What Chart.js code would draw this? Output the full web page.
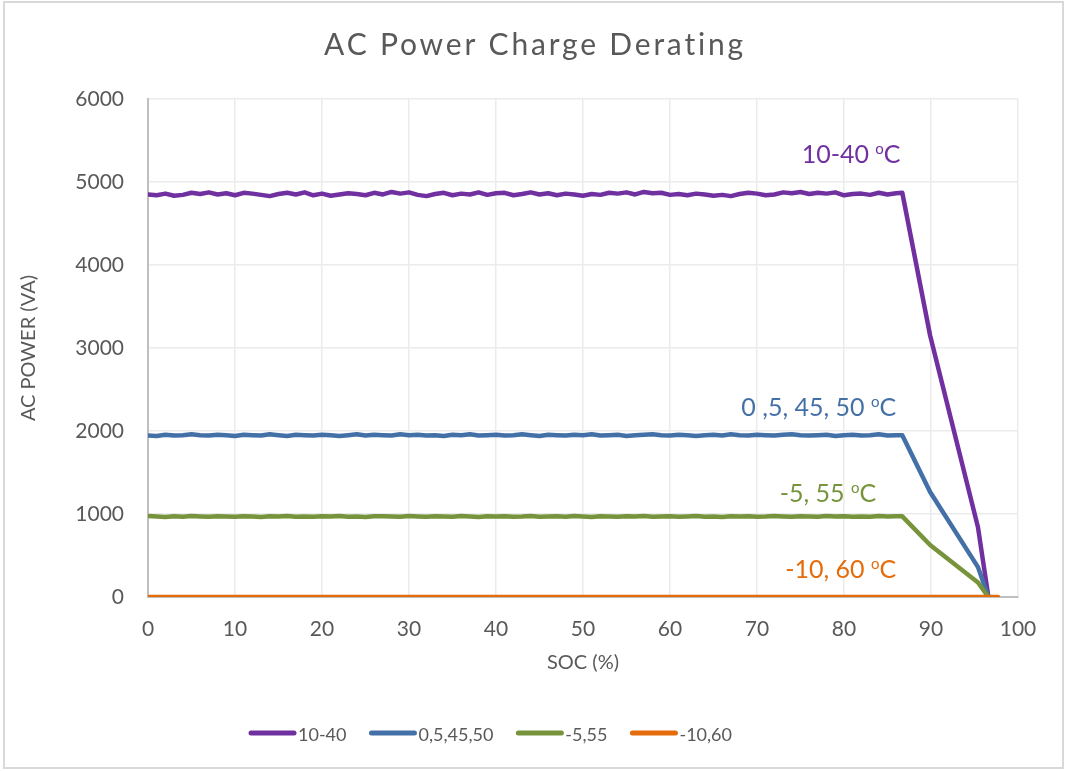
<!DOCTYPE html>
<html>
<head>
<meta charset="utf-8">
<title>AC Power Charge Derating</title>
<script src="https://cdn.jsdelivr.net/npm/chart.js@4.4.1/dist/chart.umd.min.js"></script>
<style>
  html, body { margin: 0; padding: 0; background: #ffffff; }
  #wrap { position: relative; width: 1066px; height: 771px; }
  canvas { display: block; }
</style>
</head>
<body>
<div id="wrap"><canvas id="chart" width="1066" height="771"></canvas></div>
<script>
// State of charge (%) for the constant-power plateau
const socFlat = [
  0, 1, 2, 3, 4, 5, 6, 7, 8, 9,
  10, 11, 12, 13, 14, 15, 16, 17, 18, 19,
  20, 21, 22, 23, 24, 25, 26, 27, 28, 29,
  30, 31, 32, 33, 34, 35, 36, 37, 38, 39,
  40, 41, 42, 43, 44, 45, 46, 47, 48, 49,
  50, 51, 52, 53, 54, 55, 56, 57, 58, 59,
  60, 61, 62, 63, 64, 65, 66, 67, 68, 69,
  70, 71, 72, 73, 74, 75, 76, 77, 78, 79,
  80, 81, 82, 83, 84, 85, 86
];

// Measured AC power (VA) on the plateau, 10-40 °C
const powerPurple = [
  4850, 4840, 4860, 4835, 4845, 4870, 4855, 4875, 4850, 4865,
  4840, 4870, 4860, 4845, 4830, 4855, 4870, 4850, 4875, 4840,
  4860, 4835, 4850, 4865, 4855, 4840, 4870, 4850, 4880, 4860,
  4875, 4845, 4830, 4855, 4870, 4840, 4860, 4850, 4875, 4845,
  4865, 4870, 4840, 4855, 4875, 4850, 4865, 4840, 4860, 4850,
  4835, 4855, 4845, 4870, 4860, 4875, 4850, 4880, 4865, 4870,
  4845, 4855, 4840, 4860, 4850, 4835, 4845, 4830, 4855, 4870,
  4860, 4840, 4850, 4875, 4865, 4880, 4855, 4870, 4860, 4875,
  4840, 4855, 4860, 4845, 4870, 4850, 4865
];

// 0, 5, 45, 50 °C
const powerBlue = [
  1945, 1940, 1955, 1945, 1950, 1960, 1950, 1945, 1955, 1950,
  1940, 1955, 1950, 1945, 1960, 1950, 1940, 1955, 1950, 1945,
  1955, 1950, 1940, 1950, 1960, 1945, 1955, 1950, 1945, 1960,
  1950, 1955, 1945, 1950, 1940, 1955, 1950, 1960, 1945, 1950,
  1955, 1945, 1950, 1960, 1950, 1940, 1955, 1950, 1945, 1955,
  1950, 1960, 1945, 1950, 1955, 1940, 1950, 1955, 1960, 1950,
  1945, 1955, 1950, 1940, 1950, 1955, 1945, 1960, 1950, 1945,
  1955, 1950, 1945, 1955, 1960, 1950, 1945, 1950, 1955, 1940,
  1950, 1955, 1945, 1950, 1960, 1945, 1950
];

// -5, 55 °C
const powerGreen = [
  975, 970, 965, 972, 968, 975, 970, 966, 972, 970,
  968, 974, 970, 965, 972, 970, 975, 968, 970, 966,
  972, 970, 975, 968, 970, 965, 972, 974, 970, 968,
  975, 970, 966, 972, 970, 968, 975, 970, 965, 972,
  970, 974, 968, 970, 975, 966, 970, 972, 968, 975,
  970, 965, 972, 970, 968, 974, 970, 975, 968, 970,
  972, 966, 970, 975, 968, 970, 965, 972, 970, 974,
  968, 970, 975, 970, 966, 972, 970, 968, 975, 970,
  972, 968, 970, 966, 975, 970, 972
];

// Derating region near full charge
const socTail = [86.7, 89.9, 95.4, 96.6];
const tailPurple = [4870, 3150, 840, 0];
const tailBlue = [1950, 1265, 360, 0];
const tailGreen = [972, 626, 175, 0];

// -10, 60 °C: no charging
const socOrange = [0, 97.7];
const powerOrange = [0, 0];

const seriesNames = ['10-40', '0,5,45,50', '-5,55', '-10,60'];
const seriesColors = ['#7030A0', '#4470A8', '#77933C', '#E46C0A'];

const chartTitle = 'AC Power Charge Derating';
const xTitle = 'SOC (%)';
const yTitle = 'AC POWER (VA)';
const xRange = [0, 100];
const xStep = 10;
const yRange = [0, 6000];
const yStep = 1000;

// Temperature labels placed next to each curve (data units: right edge, baseline)
const curveLabels = [
  { text: '10-40 ', color: seriesColors[0], soc: 86.5, power: 5229 },
  { text: '0 ,5, 45, 50 ', color: seriesColors[1], soc: 86.0, power: 2181 },
  { text: '-5, 55 ', color: seriesColors[2], soc: 83.7, power: 1145 },
  { text: '-10, 60 ', color: seriesColors[3], soc: 86.0, power: 229 }
];

const toPoints = (xs, ys) => xs.map((x, i) => ({ x: x, y: ys[i] }));

const FONT = 'Lato, "Open Sans", sans-serif';
const TEXT_GREY = '#595959';

const labelPlugin = {
  id: 'curveLabels',
  afterDatasetsDraw(chart) {
    const ctx = chart.ctx;
    const xs = chart.scales.x, ys = chart.scales.y;
    ctx.save();
    ctx.textBaseline = 'alphabetic';
    ctx.textAlign = 'left';
    curveLabels.forEach(l => {
      const mainFont = '25px ' + FONT;
      const supFont = '15px ' + FONT;
      ctx.font = mainFont;
      const w1 = ctx.measureText(l.text).width;
      const wC = ctx.measureText('C').width;
      ctx.font = supFont;
      const wO = ctx.measureText('o').width;
      const right = xs.getPixelForValue(l.soc);
      const base = ys.getPixelForValue(l.power);
      let x = right - (w1 + wO + wC);
      ctx.fillStyle = l.color;
      ctx.font = mainFont;
      ctx.fillText(l.text, x, base);
      x += w1;
      ctx.font = supFont;
      ctx.fillText('o', x, base - 9);
      x += wO;
      ctx.font = mainFont;
      ctx.fillText('C', x, base);
    });
    ctx.restore();
  }
};

const framePlugin = {
  id: 'frame',
  afterDraw(chart) {
    const ctx = chart.ctx;
    ctx.save();
    // outer frame
    ctx.strokeStyle = '#d9d9d9';
    ctx.lineWidth = 2;
    ctx.strokeRect(4, 2, 1059, 766);

    // title
    ctx.fillStyle = TEXT_GREY;
    ctx.font = '30px ' + FONT;
    ctx.textAlign = 'center';
    ctx.textBaseline = 'alphabetic';
    if ('letterSpacing' in ctx) ctx.letterSpacing = '2.8px';
    ctx.fillText(chartTitle, 535, 55);
    if ('letterSpacing' in ctx) ctx.letterSpacing = '0px';

    // legend
    ctx.font = '18px ' + FONT;
    ctx.textAlign = 'left';
    let x = 249;
    const lineY = 733;
    seriesNames.forEach((name, i) => {
      ctx.strokeStyle = seriesColors[i];
      ctx.lineWidth = 5;
      ctx.lineCap = 'round';
      ctx.beginPath();
      ctx.moveTo(x + 2, lineY);
      ctx.lineTo(x + 45, lineY);
      ctx.stroke();
      x += 49;
      ctx.fillStyle = TEXT_GREY;
      ctx.fillText(name, x, 741);
      x += ctx.measureText(name).width + 23;
    });
    ctx.restore();
  }
};

const lineStyle = color => ({
  borderColor: color,
  backgroundColor: color,
  borderWidth: 4.5,
  borderCapStyle: 'round',
  borderJoinStyle: 'round',
  pointRadius: 0,
  pointHoverRadius: 0,
  tension: 0,
  fill: false
});

new Chart(document.getElementById('chart'), {
  type: 'line',
  data: {
    datasets: [
      Object.assign({ label: seriesNames[0], order: 4,
        data: toPoints(socFlat.concat(socTail), powerPurple.concat(tailPurple)) }, lineStyle(seriesColors[0])),
      Object.assign({ label: seriesNames[1], order: 3,
        data: toPoints(socFlat.concat(socTail), powerBlue.concat(tailBlue)) }, lineStyle(seriesColors[1])),
      Object.assign({ label: seriesNames[2], order: 2,
        data: toPoints(socFlat.concat(socTail), powerGreen.concat(tailGreen)) }, lineStyle(seriesColors[2])),
      Object.assign({ label: seriesNames[3], order: 1,
        data: toPoints(socOrange, powerOrange) }, lineStyle(seriesColors[3]))
    ]
  },
  options: {
    responsive: false,
    animation: false,
    devicePixelRatio: 1,
    layout: { padding: { top: 99, right: 48, bottom: 84, left: 0 } },
    plugins: {
      legend: { display: false },
      title: { display: false },
      tooltip: { enabled: false }
    },
    scales: {
      x: {
        type: 'linear',
        min: xRange[0],
        max: xRange[1],
        afterFit: s => { s.height = 90; },
        ticks: {
          stepSize: xStep,
          padding: 20,
          color: TEXT_GREY,
          font: { family: FONT, size: 21 },
          callback: v => String(v)
        },
        grid: { color: '#ebebeb', lineWidth: 1.5, drawTicks: false },
        border: { display: true, color: '#bfbfbf', width: 2 },
        title: {
          display: true,
          text: xTitle,
          color: TEXT_GREY,
          font: { family: FONT, size: 20 },
          padding: { top: 0, bottom: 12 }
        }
      },
      y: {
        type: 'linear',
        min: yRange[0],
        max: yRange[1],
        afterFit: s => { s.width = 148; },
        ticks: {
          stepSize: yStep,
          padding: 24,
          color: TEXT_GREY,
          font: { family: FONT, size: 21 },
          callback: v => String(v)
        },
        grid: { color: '#ebebeb', lineWidth: 1.5, drawTicks: false },
        border: { display: true, color: '#bfbfbf', width: 2 },
        title: {
          display: true,
          text: yTitle,
          color: TEXT_GREY,
          font: { family: FONT, size: 20 },
          padding: { top: 17, bottom: 0 }
        }
      }
    }
  },
  plugins: [labelPlugin, framePlugin]
});
</script>
</body>
</html>
